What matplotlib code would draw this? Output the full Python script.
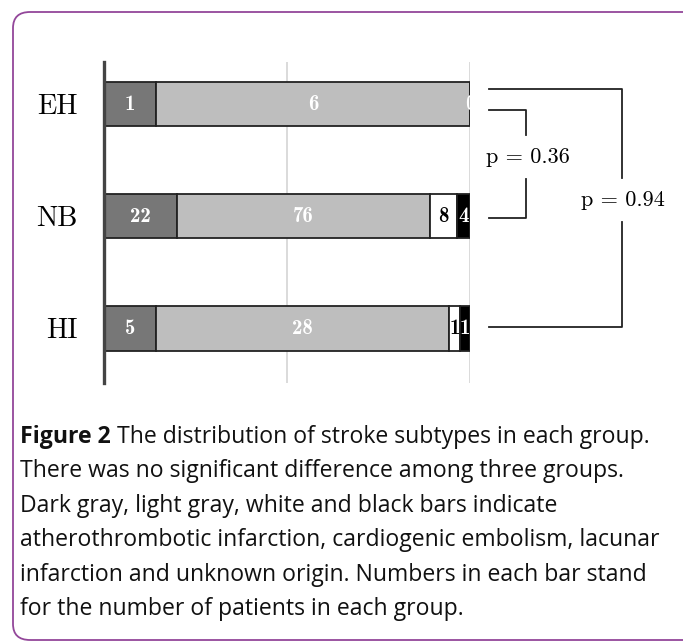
import numpy as np
import matplotlib
matplotlib.use('Agg')
import matplotlib.pyplot as plt
from matplotlib.patches import FancyBboxPatch

plt.rcParams['axes.formatter.use_mathtext'] = True

groups = ['EH', 'NB', 'HI']
subtypes = ['atherothrombotic', 'cardiogenic', 'lacunar', 'unknown']
counts = np.array([
    [1, 6, 0, 0],
    [22, 76, 8, 4],
    [5, 28, 1, 1],
])
seg_colors = ['#777777', '#bebebe', '#ffffff', '#000000']
txt_colors = ['white', 'white', 'black', 'white']

# p values between groups (pair of group indices)
comparisons = [((0, 1), 'p = 0.36'), ((0, 2), 'p = 0.94')]

caption_bold = 'Figure 2'
caption_rest = ' The distribution of stroke subtypes in each group.'
caption_lines = [
    'There was no significant difference among three groups.',
    'Dark gray, light gray, white and black bars indicate',
    'atherothrombotic infarction, cardiogenic embolism, lacunar',
    'infarction and unknown origin. Numbers in each bar stand',
    'for the number of patients in each group.',
]


def main():
    fig = plt.figure(figsize=(6.83, 6.42), dpi=100)

    # rounded frame round the figure
    frame = FancyBboxPatch((13 / 683, 1 - 640 / 642), 700 / 683, 628 / 642,
                           boxstyle='round,pad=0,rounding_size=0.025',
                           transform=fig.transFigure, fill=False,
                           edgecolor='#93479a', linewidth=1.3)
    fig.add_artist(frame)

    ax = fig.add_axes([104 / 683, 1 - 383 / 642, 366 / 683, 321 / 642])
    perc = counts / counts.sum(axis=1, keepdims=True) * 100
    ypos = np.arange(len(groups))
    left = np.zeros(len(groups))
    last = len(subtypes) - 1
    for j in range(len(subtypes)):
        ax.barh(ypos, perc[:, j], left=left, height=0.4, color=seg_colors[j],
                edgecolor='#222222', linewidth=1.3, zorder=2)
        for i in range(len(groups)):
            # an empty segment only gets its label when it is the last one
            if counts[i, j] == 0 and j != last:
                continue
            ax.text(left[i] + perc[i, j] / 2, ypos[i], str(counts[i, j]),
                    ha='center', va='center', color=txt_colors[j],
                    fontfamily='cmb10', fontsize=15, zorder=3)
        left += perc[:, j]

    ax.set_xlim(0, 100)
    ax.set_ylim(2.49, -0.375)
    ax.set_xticks([50, 100])
    ax.set_xticklabels([])
    ax.tick_params(axis='x', length=0)
    ax.grid(axis='x', color='#d4d4d4', linewidth=1.2, zorder=1)
    ax.set_yticks(ypos)
    ax.set_yticklabels(groups, fontfamily='cmr10', fontsize=20.5)
    ax.tick_params(axis='y', length=0, pad=19)
    for s in ['top', 'right', 'bottom']:
        ax.spines[s].set_visible(False)
    ax.spines['left'].set_color('#444444')
    ax.spines['left'].set_linewidth(2.4)

    # brackets with p values
    x0 = 105.2
    specs = [(115.3, 0.054, 1.018, 0.473), (141.5, -0.134, 1.99, 0.857)]
    for ((a, b), label), (xb, ya, yb, ym) in zip(comparisons, specs):
        gap = 0.2
        ax.plot([x0, xb, xb], [ya, ya, ym - gap], color='#222222', lw=1.3,
                clip_on=False)
        ax.plot([x0, xb, xb], [yb, yb, ym + gap], color='#222222', lw=1.3,
                clip_on=False)
        ax.text(xb + 0.4, ym, label, ha='center', va='center',
                fontfamily='cmr10', fontsize=16)

    # caption
    cap_font = 'Open Sans'
    fs = 16.6
    y0 = 1 - 443 / 642
    t1 = fig.text(20 / 683, y0, caption_bold, fontfamily=cap_font,
                  fontweight='bold', fontsize=fs, va='baseline', color='#111111')
    ax.annotate(caption_rest, xy=(1, 0), xycoords=t1, va='bottom',
                fontfamily=cap_font, fontsize=fs, color='#111111',
                annotation_clip=False)
    for k, line in enumerate(caption_lines):
        fig.text(20 / 683, y0 - (k + 1) * 34.4 / 642, line,
                 fontfamily=cap_font, fontsize=fs, va='baseline',
                 color='#111111')

    fig.savefig('out.png', dpi=100)


if __name__ == '__main__':
    main()
